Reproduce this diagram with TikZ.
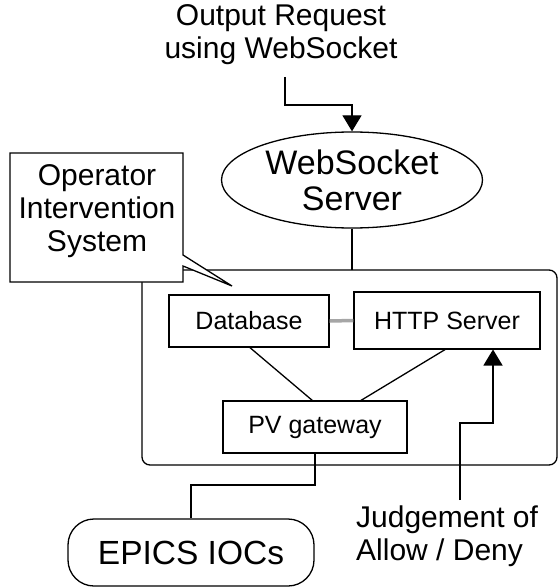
\documentclass[tikz,border=0pt]{standalone}
\usepackage{fontspec}
\setmainfont{Liberation Sans}
\usetikzlibrary{arrows.meta,shapes.geometric}
\begin{document}
\begin{tikzpicture}[x=1pt,y=-1pt,
  ln/.style={line width=1.3pt},
  arr/.style={ln,-{Triangle[width=19pt,length=16pt]}},
  boxn/.style={draw,ln,fill=white,inner sep=0pt,font=\fontsize{25}{28}\selectfont},
  lbl/.style={align=center,inner sep=0pt,font=\fontsize{30}{33}\selectfont}]
\useasboundingbox (0,0) rectangle (559,588);
% container
\draw[ln,rounded corners=8pt] (142,270) rectangle (557,465);
\coordinate (ctop) at (352,270);
% callout
\draw[ln,fill=white] (10,153) -- (183,153) -- (183,255) -- (232,286) -- (183,266) -- (183,282) -- (10,282) -- cycle;
\node[lbl] (ois) at (97,211) {Operator\\Intervention\\System};
% top label
\node[lbl] (req) at (281,35) {Output Request\\using WebSocket};
\coordinate (rq) at (285,77);
% ellipse
\node[draw,ln,ellipse,minimum width=261pt,minimum height=96pt,inner sep=0pt,align=center,
  font=\fontsize{34}{36}\selectfont] (ws) at (352,180) {WebSocket\\Server};
\draw[arr] (rq) |- (352,105) -- (ws.north);
\draw[ln] (ws.south) -- (ctop);
% boxes
\node[boxn,minimum width=160pt,minimum height=52pt] (db) at (249,321) {Database};
\node[boxn,minimum width=186pt,minimum height=57pt] (http) at (447,320.5) {HTTP Server};
\node[boxn,minimum width=184pt,minimum height=52pt] (pv) at (315,427) {PV gateway};
\draw[line width=3.5pt,gray!70] (db.east) -- (http.west);
\draw[ln] (db.south) ++(1,0) coordinate (dbs) -- (313,401) coordinate (pvl);
\draw[ln] (446,349) coordinate (hts) -- (360,401) coordinate (pvr);
% EPICS
\node[draw,ln,rounded corners=26pt,minimum width=246pt,minimum height=67pt,inner sep=0pt,
  font=\fontsize{33.5}{36}\selectfont] (epics) at (191,552.5) {EPICS IOCs};
\draw[ln] (pv.south) |- (191,485) -- (epics.north);
% judgement
\node[lbl,align=left,anchor=north west] (jd) at (356,506) {Judgement of\\Allow / Deny};
\coordinate (jtop) at (460,500);
\draw[arr] (jtop) -- (460,423) -- (493,423) -- (493,349.5);
\end{tikzpicture}
\end{document}
